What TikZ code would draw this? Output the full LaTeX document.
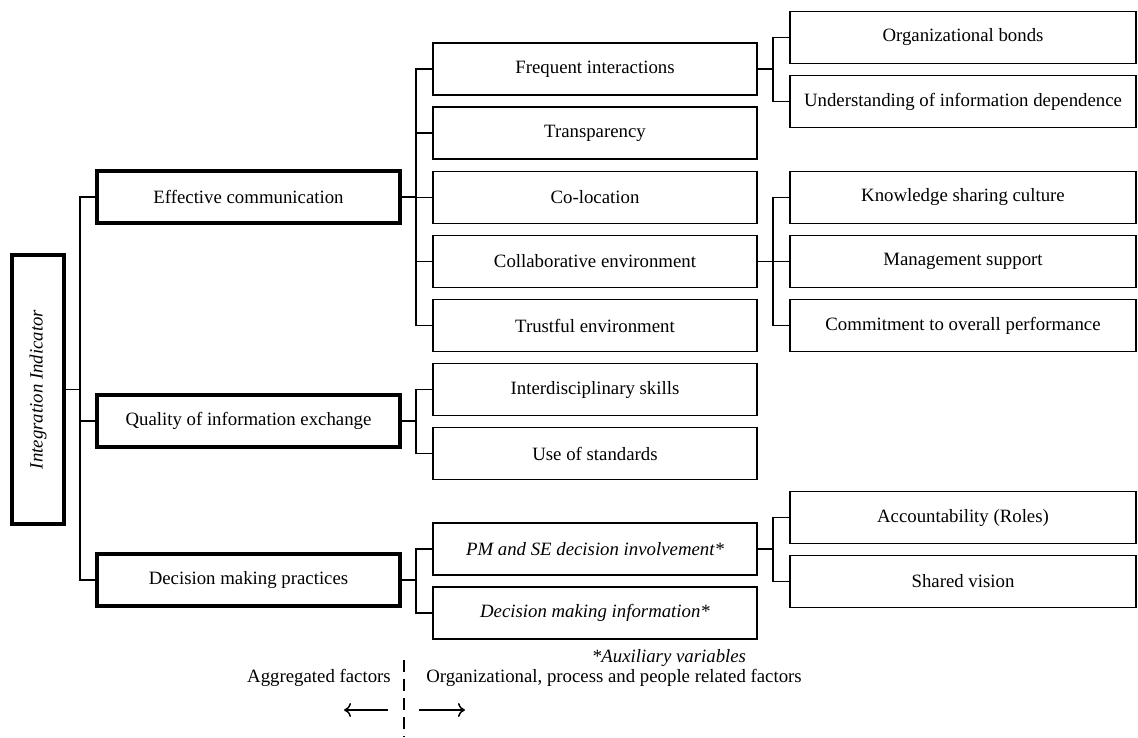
\documentclass[tikz,border=0pt]{standalone}
\usepackage{fontspec}
\setmainfont{Liberation Serif}
\usetikzlibrary{arrows.meta}
\begin{document}
\begin{tikzpicture}[x=1pt,y=-1pt,
  every node/.style={font=\fontsize{18.8}{22}\selectfont, inner sep=0pt},
  lone/.style={draw, line width=4pt, minimum width=303pt, minimum height=52pt},
  ltwo/.style={draw, line width=1.5pt, minimum width=324pt, minimum height=52pt},
  lthree/.style={draw, line width=1.5pt, minimum width=346pt, minimum height=52pt},
  conn/.style={line width=1.5pt},
  plain/.style={}]
\useasboundingbox (0,0) rectangle (1138,737);
\node[draw, line width=3.5pt, minimum width=52pt, minimum height=269pt] (ii) at (38,389.5) {};
\node[rotate=90, font=\fontsize{18.8}{22}\selectfont\itshape] (iit) at (38,389.5) {Integration Indicator};
\coordinate (b1) at (80,0);
\coordinate (b2) at (416,0);
\coordinate (b3) at (773,0);
% level 1
\node[lone] (ec) at (248.5,197) {Effective communication};
\node[lone] (qi) at (248.5,421) {Quality of information exchange};
\node[lone] (dm) at (248.5,580) {Decision making practices};
% level 2
\node[ltwo] (fi) at (595,69) {Frequent interactions};
\node[ltwo] (tr) at (595,133) {Transparency};
\node[ltwo] (co) at (595,197.5) {Co-location};
\node[ltwo] (ce) at (595,261.5) {Collaborative environment};
\node[ltwo] (te) at (595,325.5) {Trustful environment};
\node[ltwo] (is) at (595,389.5) {Interdisciplinary skills};
\node[ltwo] (us) at (595,453.5) {Use of standards};
\node[ltwo] (pm) at (595,549) {\itshape PM and SE decision involvement*};
\node[ltwo] (di) at (595,613) {\itshape Decision making information*};
% level 3
\node[lthree] (ob) at (963,37.5) {Organizational bonds};
\node[lthree] (ud) at (963,101.5) {Understanding of information dependence};
\node[lthree] (ks) at (963,197.5) {Knowledge sharing culture};
\node[lthree] (ms) at (963,261.5) {Management support};
\node[lthree] (cp) at (963,325.5) {Commitment to overall performance};
\node[lthree] (ac) at (963,517.5) {Accountability (Roles)};
\node[lthree] (sv) at (963,581.5) {Shared vision};
% connectors
\foreach \c in {ec,qi,dm}
  \draw[conn] (ii.east) -- (ii.east -| b1) |- (\c.west);
\foreach \c in {fi,tr,co,ce,te}
  \draw[conn] (ec.east) -- (ec.east -| b2) |- (\c.west);
\foreach \c in {is,us}
  \draw[conn] (qi.east) -- (qi.east -| b2) |- (\c.west);
\foreach \c in {pm,di}
  \draw[conn] (dm.east) -- (dm.east -| b2) |- (\c.west);
\foreach \c in {ob,ud}
  \draw[conn] (fi.east) -- (fi.east -| b3) |- (\c.west);
\foreach \c in {ks,ms,cp}
  \draw[conn] (ce.east) -- (ce.east -| b3) |- (\c.west);
\foreach \c in {ac,sv}
  \draw[conn] (pm.east) -- (pm.east -| b3) |- (\c.west);
% footer
\node[font=\fontsize{18.8}{22}\selectfont\itshape] (aux) at (669,658) {*Auxiliary variables};
\coordinate (dtop) at (404,660);
\coordinate (dbot) at (404,737);
\draw[line width=1.5pt, dash pattern=on 12pt off 7pt] (dtop) -- (dbot);
\node (agg) at (319,678) {Aggregated factors};
\node (org) at (614,678) {Organizational, process and people related factors};
\coordinate (la1) at (388,710);
\coordinate (la2) at (344,710);
\coordinate (ra1) at (419,710);
\coordinate (ra2) at (465,710);
\draw[line width=1.5pt, -{To[length=7pt,width=14pt]}] (la1) -- (la2);
\draw[line width=1.5pt, -{To[length=7pt,width=14pt]}] (ra1) -- (ra2);
\end{tikzpicture}
\end{document}
